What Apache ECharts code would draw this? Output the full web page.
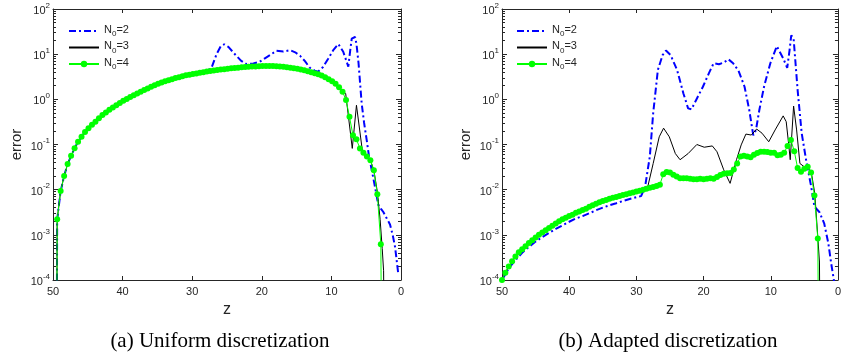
<!DOCTYPE html>
<html><head><meta charset="utf-8">
<script src="https://cdn.jsdelivr.net/npm/echarts@6/dist/echarts.min.js"></script>
<style>html,body{margin:0;padding:0;background:#fff}#c{width:844px;height:355px}</style>
</head><body><div id="c"></div>
<script>
// ---------- tick labels ----------
const xTicks = [0, 10, 20, 30, 40, 50];
const yExps = [-4, -3, -2, -1, 0, 1, 2];
const minorMult = [2, 3, 4, 5, 6, 7, 8, 9];
const seriesNames = ['N0=2', 'N0=3', 'N0=4'];
const captions = ['(a) Uniform discretization', '(b) Adapted discretization'];

// ---------- (a) uniform discretization ----------
const uniZ4 = [49.5,
 49.4,48.9,48.4,47.9,47.4,46.9,46.4,45.9,45.4,44.9,
 44.4,43.9,43.4,42.9,42.4,41.9,41.4,40.9,40.4,39.9,
 39.4,38.9,38.4,37.9,37.4,36.9,36.4,35.9,35.4,34.9,
 34.4,33.9,33.4,32.9,32.4,31.9,31.4,30.9,30.4,29.9,
 29.4,28.9,28.4,27.9,27.4,26.9,26.4,25.9,25.4,24.9,
 24.4,23.9,23.4,22.9,22.4,21.9,21.4,20.9,20.4,19.9,
 19.4,18.9,18.4,17.9,17.4,16.9,16.4,15.9,15.4,14.9,
 14.4,13.9,13.4,12.9,12.4,11.9,11.4,10.9,10.4,9.9,
 9.4,8.9,8.4,7.9,7.4,6.9,6.4,5.9,5.4,4.9,
 4.4,3.9,3.4,2.9,
 2.7];
const uniErr4 = [1e-7,
 0.0022,0.0093,0.020,0.037,0.056,0.083,0.115,0.148,0.19,0.23,
 0.275,0.32,0.38,0.45,0.51,0.59,0.66,0.74,0.83,0.93,
 1.02,1.12,1.23,1.35,1.47,1.6,1.74,1.9,2.05,2.2,
 2.35,2.5,2.65,2.8,2.95,3.1,3.25,3.4,3.5,3.63,
 3.75,3.9,4.0,4.15,4.25,4.35,4.45,4.55,4.65,4.75,
 4.85,4.95,5.0,5.1,5.2,5.25,5.3,5.35,5.4,5.45,
 5.45,5.45,5.45,5.4,5.3,5.25,5.15,5.0,4.9,4.75,
 4.55,4.4,4.2,4.0,3.8,3.6,3.35,3.1,2.8,2.5,
 2.2,1.85,1.47,0.97,0.41,0.16,0.13,0.082,0.066,0.054,
 0.045,0.027,0.0079,0.00062,
 1e-7];
// N0=3 coincides with N0=4 for z >= 8.9
const uniZ3Tail   = [8.4, 7.95, 7.0, 6.4, 5.5, 4.9, 4.4, 3.9, 3.4, 3.0, 2.7, 2.5, 2.35];
const uniErr3Tail = [1.55, 1.35, 0.082, 0.74, 0.063, 0.052, 0.045, 0.027, 0.009, 0.0022, 5e-4, 1.6e-4, 1e-7];
// N0=2 coincides with N0=4 for z >= 27.9
const uniZ2Tail = [27.2,26.5,25.9,25.4,24.8, 24.0,23.0,22.2,21.2,20.3, 19.5,18.8,17.9,16.9,15.95,
 15.2,14.5,13.8,13.1,12.4, 11.9,11.2,10.44,9.7,9.0, 8.3,7.9,7.57,7.3,7.08, 6.6,6.4,6.1,5.65,5.3,
 4.93,4.6,4.2,3.74,3.26, 2.9,2.54,2.1,1.58,1.2, 0.86,0.4];
const uniErr2Tail = [5.1,10,15,16.5,14.5, 10.5,7.2,6.0,6.2,6.8, 8.2,9.6,11.9,11.4,12.3,
 11,9.2,7,5.0,4.3, 4.1,5.2,8,12.5,16.7, 11.3,7.5,5.3,12,22, 24,17,6.3,0.81,0.3,
 0.126,0.055,0.027,0.0116,0.0046, 0.0038,0.0032,0.0024,0.0017,0.0010, 5.5e-4,1.4e-4];

// ---------- (b) adapted discretization ----------
const adaZ4 = [50,49.5,49,48.5,48,47.5,47,46.5,46,45.5,
 45,44.5,44,43.5,43,42.5,42,41.5,41,40.5,
 40,39.5,39,38.5,38,37.5,37,36.5,36,35.5,
 35,34.5,34,33.5,33,32.5,32,31.5,31,30.5,
 30,29.5,29,28.5,28,27.5,27,26.5,26,25.5,
 25,24.5,24,23.5,23,22.5,22,21.5,21,20.5,
 20,19.5,19,18.5,18,17.5,17,16.5,16,15.5,
 15,14.5,14,13.5,13,12.5,12,11.5,11,10.5,
 10,9.5,9,8.5,8,7.5,7,6.5,6,5.5,
 5,4.5,4,3.5,3,2.8];
const adaErr4 = [1.0e-4,1.45e-4,2.0e-4,2.6e-4,3.3e-4,4.1e-4,4.8e-4,5.6e-4,6.6e-4,7.6e-4,
 8.7e-4,1.0e-3,1.12e-3,1.26e-3,1.41e-3,1.58e-3,1.78e-3,2.0e-3,2.2e-3,2.4e-3,
 2.6e-3,2.8e-3,3.1e-3,3.3e-3,3.55e-3,3.8e-3,4.2e-3,4.5e-3,4.9e-3,5.25e-3,
 5.6e-3,5.9e-3,6.3e-3,6.6e-3,6.9e-3,7.2e-3,7.6e-3,7.9e-3,8.3e-3,8.7e-3,
 9.1e-3,9.5e-3,0.0100,0.0105,0.0110,0.0115,0.0120,0.0129,0.022,0.0245,
 0.024,0.0214,0.0195,0.018,0.0178,0.0178,0.0174,0.017,0.017,0.0174,
 0.017,0.0174,0.0178,0.0174,0.019,0.021,0.0224,0.023,0.0234,0.028,
 0.038,0.054,0.056,0.054,0.052,0.059,0.065,0.069,0.069,0.068,
 0.066,0.066,0.058,0.059,0.066,0.093,0.126,0.071,0.030,0.025,
 0.029,0.032,0.024,0.0074,8.3e-4,1e-7];
// N0=3 coincides with N0=4 for z >= 28.5
const adaZ3Tail = [28.25,27.5,26.6,25.95,25.1, 24.2,23.5,22.3,21.0,19.9, 18.7,18.0,17.0,16.05,15.1,
 14.4,13.7,12.9,12.1,11.3, 10.3,9.35,8.15,7.7,7.35, 7.1,6.6,6.15,5.66,5.0, 4.4,3.94,3.45,3.0,2.75, 2.6];
const adaErr3Tail = [0.0126,0.038,0.148,0.23,0.148, 0.063,0.046,0.063,0.1,0.087, 0.093,0.069,0.0275,0.0138,0.046,
 0.098,0.17,0.162,0.22,0.178, 0.115,0.21,0.43,0.32,0.107, 0.046,0.71,0.21,0.038,0.032, 0.032,0.023,0.0083,0.00091,0.00025, 1e-7];
const adaZ2 = [50,49,48,47,46,45,44,43,42,41, 40,39,38,37,36,35,34,33,32,31,
 30,29.3,28.7,28.0,27.5,26.8,26.1,25.6,24.9,23.95, 23.0,22.3,21.8,21.1,20.1,19.2,18.5,17.7,17.0,16.3,
 15.6,14.8,13.9,13.2,12.6,12.2,11.7,11.0,10.06,9.1, 8.15,7.55,7.2,6.95,6.6,6.0,5.4,4.7,3.98,3.5,
 2.77,2.05,1.43,1.0,0.5];
const adaErr2 = [1e-4,1.8e-4,2.75e-4,4e-4,5.4e-4,7.1e-4,8.9e-4,1.1e-3,1.35e-3,1.62e-3,
 1.95e-3,2.3e-3,2.6e-3,3.0e-3,3.5e-3,4.0e-3,4.5e-3,5.0e-3,5.6e-3,6.2e-3,
 6.8e-3,7.2e-3,0.0117,0.054,0.49,4.5,9.5,12,9.5,4.5,
 1.35,0.63,0.6,0.97,1.9,3.8,6.3,6.0,6.5,7.7,
 6.3,4.3,1.9,0.58,0.16,0.21,0.58,1.9,6.3,15,
 8.1,5.0,12.3,26,22.4,1.6,0.18,0.042,0.0117,0.0042,
 0.0032,0.0018,6.5e-4,2.3e-4,8e-5];

// ---------- build ----------
function pairs(z, e) { return z.map((v, i) => [v, e[i]]); }
function head(z, e, cut) { return pairs(z, e).filter(p => p[0] >= cut); }

const uni4 = pairs(uniZ4, uniErr4);
const uni3 = head(uniZ4, uniErr4, 8.9).concat(pairs(uniZ3Tail, uniErr3Tail));
const uni2 = head(uniZ4, uniErr4, 27.9).concat(pairs(uniZ2Tail, uniErr2Tail));
const ada4 = pairs(adaZ4, adaErr4);
const ada3 = head(adaZ4, adaErr4, 28.5).concat(pairs(adaZ3Tail, adaErr3Tail));
const ada2 = pairs(adaZ2, adaErr2);

const AX = '#262626';
const FONT = 'Liberation Sans, Arial, sans-serif';
const minorExps = [];
yExps.slice(0, -1).forEach(e => minorMult.forEach(m => minorExps.push(e + Math.log10(m))));

const grids = [
  { left: 53, top: 9, width: 348, height: 271 },
  { left: 502, top: 9, width: 348, height: 271 }
];

const xAxis = [], yAxis = [], series = [], legend = [];
const lineCol = { 'N0=2': '#0000ff', 'N0=3': '#000000', 'N0=4': '#00ff00' };
const axLine = show => ({ show, onZero: false, lineStyle: { color: AX, width: 1 } });

[[uni2, uni3, uni4], [ada2, ada3, ada4]].forEach((sets, g) => {
  const xBase = xAxis.length, yBase = yAxis.length;
  xAxis.push({
    type: 'value', gridIndex: g, min: 0, max: 50, interval: 10, inverse: true, position: 'bottom',
    axisLine: axLine(true),
    axisTick: { show: true, inside: true, length: 4, lineStyle: { color: AX } },
    axisLabel: { show: true, margin: 6, fontSize: 11, color: AX, fontFamily: FONT },
    splitLine: { show: false },
    name: 'z', nameLocation: 'middle', nameGap: 21,
    nameTextStyle: { fontSize: 16, color: AX, fontFamily: FONT }
  });
  xAxis.push({
    type: 'value', gridIndex: g, min: 0, max: 50, interval: 10, inverse: true, position: 'top',
    axisLine: axLine(true),
    axisTick: { show: true, inside: true, length: 4, lineStyle: { color: AX } },
    axisLabel: { show: false }, splitLine: { show: false }
  });
  yAxis.push({
    type: 'log', logBase: 10, gridIndex: g, min: 1e-4, max: 100, position: 'left',
    axisLine: axLine(true),
    axisTick: { show: true, inside: true, length: 5, lineStyle: { color: AX } },
    axisLabel: {
      show: true, margin: 3, color: AX, fontFamily: FONT,
      formatter: v => '{b|10}{s|' + Math.round(Math.log10(v)) + '}',
      rich: {
        b: { fontSize: 11, color: AX, fontFamily: FONT, verticalAlign: 'bottom' },
        s: { fontSize: 8, color: AX, fontFamily: FONT, verticalAlign: 'bottom', padding: [0, 0, 7, 0] }
      }
    },
    splitLine: { show: false },
    name: 'error', nameLocation: 'middle', nameGap: 29, nameRotate: 90,
    nameTextStyle: { fontSize: 15, color: AX, fontFamily: FONT }
  });
  const tickOnly = (pos, vals, len, showLine) => ({
    type: 'value', gridIndex: g, min: -4, max: 2, interval: 1, position: pos,
    axisLine: axLine(showLine),
    axisTick: { show: true, inside: true, length: len, lineStyle: { color: AX }, customValues: vals },
    axisLabel: { show: false }, splitLine: { show: false }
  });
  yAxis.push(tickOnly('left', minorExps, 3, false));
  yAxis.push(tickOnly('right', yExps, 5, true));
  yAxis.push(tickOnly('right', minorExps, 3, false));

  sets.forEach((data, k) => {
    const name = seriesNames[k];
    const s = {
      type: 'line', name, xAxisIndex: xBase, yAxisIndex: yBase, data,
      clip: true, smooth: false,
      lineStyle: { color: lineCol[name], width: 1 },
      itemStyle: { color: lineCol[name] },
      symbol: 'none', showSymbol: false
    };
    if (k === 0) { s.lineStyle = { color: lineCol[name], width: 2, type: [7, 3, 2, 3] }; }
    if (k === 2) { s.symbol = 'circle'; s.symbolSize = 6; s.showSymbol = true; s.showAllSymbol = true; }
    series.push(s);
  });

  legend.push({
    left: g === 0 ? 63 : 511, top: 19, orient: 'vertical',
    itemWidth: 30, itemHeight: 8, itemGap: 2.5, selectedMode: false,
    data: seriesNames.map((n, k) => k < 2 ? { name: n, itemStyle: { opacity: 0 } } : { name: n }),
    formatter: n => '{n|N}{sub|0}{n|' + n.slice(2) + '}',
    textStyle: {
      color: AX, fontFamily: FONT,
      rich: {
        n: { fontSize: 11, color: AX, fontFamily: FONT, verticalAlign: 'bottom', padding: [0, 0, 3, 0] },
        sub: { fontSize: 8, color: AX, fontFamily: FONT, verticalAlign: 'bottom' }
      }
    }
  });
});

const chart = echarts.init(document.getElementById('c'), null, { renderer: 'canvas' });
chart.setOption({
  animation: false,
  backgroundColor: '#fff',
  textStyle: { fontFamily: FONT },
  grid: grids,
  xAxis, yAxis, series, legend,
  graphic: captions.map((t, i) => ({
    type: 'text', x: i === 0 ? 220 : 668, y: 341,
    style: { text: t, font: '21px "Liberation Serif", "Times New Roman", serif', fill: '#000',
             textAlign: 'center', textVerticalAlign: 'middle' }
  }))
});
</script></body></html>
